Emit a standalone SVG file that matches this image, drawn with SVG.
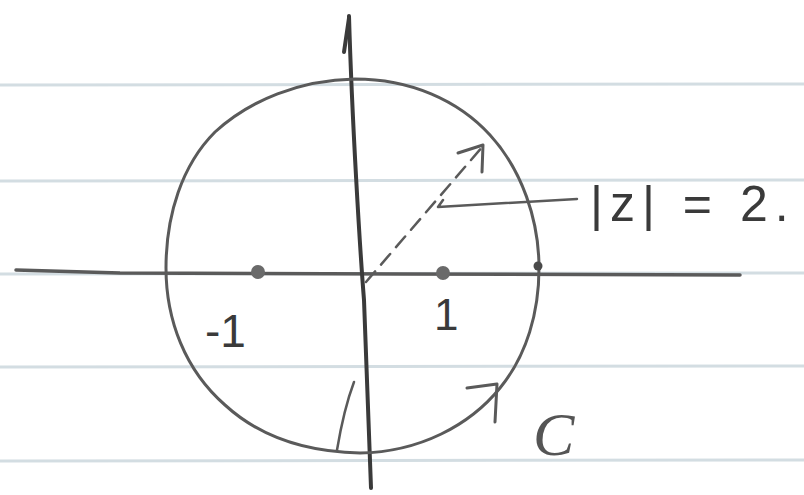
<svg xmlns="http://www.w3.org/2000/svg" width="804" height="495" viewBox="0 0 804 495">
<style>
.paper{stroke:#d3dde2;stroke-width:3;fill:none}
.ink{stroke:#3a3a3a;fill:none;stroke-linecap:round;stroke-linejoin:round}
.soft{stroke:#5a5a5a;fill:none;stroke-linecap:round;stroke-linejoin:round}
.lbl{font-family:"Liberation Sans","DejaVu Sans",sans-serif;fill:#3a3a3a}
</style>
<rect width="804" height="495" fill="#ffffff"/>
<g id="paper">
<line class="paper" x1="0" y1="85" x2="804" y2="84"/>
<line class="paper" x1="0" y1="181" x2="804" y2="180"/>
<line class="paper" x1="0" y1="274" x2="804" y2="273"/>
<line class="paper" x1="0" y1="367" x2="804" y2="366"/>
<line class="paper" x1="0" y1="461" x2="804" y2="460"/>
</g>
<g id="connectors">
<path id="x-axis" class="soft" stroke-width="3.5" d="M16 270 L120 273 L400 274 L740 275"/>
<path id="y-axis" class="ink" stroke-width="4" d="M349 16 C352 120 360 250 364 300 C367 380 369 440 371 488"/>
<path id="y-arrow" class="ink" stroke-width="4" d="M349 18 L344 52"/>
<path id="radius" class="soft" stroke-width="2.5" stroke-dasharray="14 9" d="M366 282 L483 146"/>
<path id="radius-head" class="soft" stroke-width="3" d="M458 153 L483 145 L482 172"/>
<path id="leader" class="soft" stroke-width="2.5" d="M443 200 L438 207 L577 199"/>
<path id="tick" class="soft" stroke-width="2.5" d="M337 450 C342 420 348 398 354 382"/>
</g>
<g id="circle">
<path class="soft" stroke-width="3" d="M355 79 C300 80 250 100 215 132 C182 165 166 215 166 268 C166 320 185 370 225 405 C260 437 305 452 360 453 C420 452 470 425 500 388 C527 355 539 312 539 268 C539 220 522 170 490 135 C458 100 410 79 355 79 Z"/>
<path class="soft" stroke-width="3" d="M467 388 L497 384 L495 422"/>
</g>
<g id="pt-neg1">
<circle cx="258" cy="272" r="7" fill="#6a6a6a"/>
<text class="lbl" x="205" y="347" font-size="46">-1</text>
</g>
<g id="pt-1">
<circle cx="443" cy="273" r="7" fill="#6a6a6a"/>
<text class="lbl" x="434" y="330" font-size="44">1</text>
</g>
<g id="pt-2">
<circle cx="538" cy="266" r="4.5" fill="#4a4a4a"/>
</g>
<g id="label-z">
<text class="lbl" x="590" y="221" font-size="50" letter-spacing="7" fill="#555">|z| = 2.</text>
</g>
<g id="label-C">
<text x="533" y="455" font-size="62" font-family="Liberation Serif,serif" font-style="italic" fill="#555">C</text>
</g>
</svg>
